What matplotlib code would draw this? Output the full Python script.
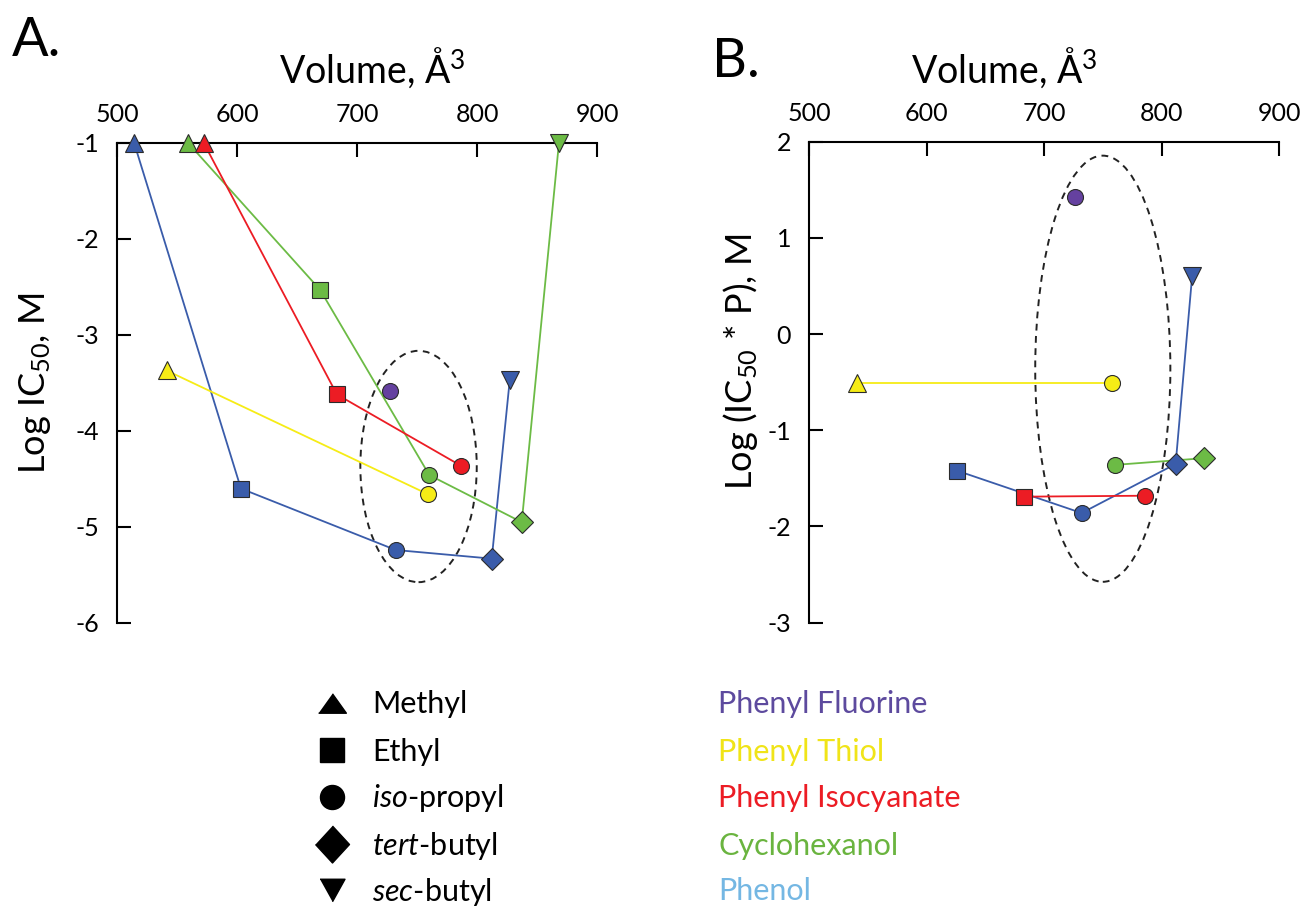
import matplotlib
matplotlib.use('Agg')
import matplotlib.pyplot as plt
from matplotlib.patches import Ellipse
from matplotlib.lines import Line2D

plt.rcParams['font.family'] = ['Lato', 'DejaVu Sans']
plt.rcParams['mathtext.fontset'] = 'custom'
plt.rcParams['mathtext.rm'] = 'Lato'
plt.rcParams['mathtext.it'] = 'Lato:italic'
plt.rcParams['axes.unicode_minus'] = False

# substituent -> marker shape
shape = {'methyl': '^', 'ethyl': 's', 'iso': 'o', 'tert': 'D', 'sec': 'v'}
msize = {'^': 12.5, 's': 11.5, 'o': 11.5, 'D': 11.2, 'v': 12.5}

# panel A: volume (A^3) and log IC50
phenol_a_vol = [514, 603, 732, 812, 827]
phenol_a_log = [-1.0, -4.60, -5.24, -5.33, -3.47]
phenol_a_grp = ['methyl', 'ethyl', 'iso', 'tert', 'sec']
cyclo_a_vol = [559, 669, 760, 837, 868]
cyclo_a_log = [-1.0, -2.53, -4.46, -4.95, -1.0]
cyclo_a_grp = ['methyl', 'ethyl', 'iso', 'tert', 'sec']
isocy_a_vol = [572, 683, 786]
isocy_a_log = [-1.0, -3.62, -4.36]
isocy_a_grp = ['methyl', 'ethyl', 'iso']
thiol_a_vol = [541, 759]
thiol_a_log = [-3.37, -4.66]
thiol_a_grp = ['methyl', 'iso']
fluor_a_vol = [727]
fluor_a_log = [-3.58]
fluor_a_grp = ['iso']

# panel B: volume and log(IC50 * P)
phenol_b_vol = [626, 732, 812, 826]
phenol_b_log = [-1.42, -1.86, -1.35, 0.60]
phenol_b_grp = ['ethyl', 'iso', 'tert', 'sec']
cyclo_b_vol = [760, 836]
cyclo_b_log = [-1.36, -1.29]
cyclo_b_grp = ['iso', 'tert']
isocy_b_vol = [683, 786]
isocy_b_log = [-1.69, -1.68]
isocy_b_grp = ['ethyl', 'iso']
thiol_b_vol = [541, 758]
thiol_b_log = [-0.505, -0.505]
thiol_b_grp = ['methyl', 'iso']
fluor_b_vol = [726]
fluor_b_log = [1.42]
fluor_b_grp = ['iso']

col_phenol = '#3a5caa'
col_cyclo = '#6cbb45'
col_isocy = '#ec1c24'
col_thiol = '#f6ec16'
col_fluor = '#6541a0'

series_a = [(phenol_a_vol, phenol_a_log, phenol_a_grp, col_phenol),
            (cyclo_a_vol, cyclo_a_log, cyclo_a_grp, col_cyclo),
            (isocy_a_vol, isocy_a_log, isocy_a_grp, col_isocy),
            (thiol_a_vol, thiol_a_log, thiol_a_grp, col_thiol),
            (fluor_a_vol, fluor_a_log, fluor_a_grp, col_fluor)]
series_b = [(phenol_b_vol, phenol_b_log, phenol_b_grp, col_phenol),
            (cyclo_b_vol, cyclo_b_log, cyclo_b_grp, col_cyclo),
            (isocy_b_vol, isocy_b_log, isocy_b_grp, col_isocy),
            (thiol_b_vol, thiol_b_log, thiol_b_grp, col_thiol),
            (fluor_b_vol, fluor_b_log, fluor_b_grp, col_fluor)]

legend_groups = ['Methyl', 'Ethyl', r'$\mathit{iso}$-propyl', r'$\mathit{tert}$-butyl', r'$\mathit{sec}$-butyl']
legend_names = ['Phenyl Fluorine', 'Phenyl Thiol', 'Phenyl Isocyanate', 'Cyclohexanol', 'Phenol']
legend_colors = ['#5d4a9e', '#f0e418', '#ec1c24', '#6ab43f', '#74b7e3']

# legend glyphs (a bit squashed compared with the plot markers)
leg_tri = [(-1, -0.7), (1, -0.7), (0, 0.7)]
leg_dia = [(0, 1), (0.92, 0), (0, -1), (-0.92, 0)]
leg_vtri = [(-1, 0.9), (1, 0.9), (0, -0.9)]
legend_shapes = [leg_tri, 's', 'o', leg_dia, leg_vtri]
legend_ms = [20, 17.3, 17.3, 26.6, 18]

fig = plt.figure(figsize=(13.14, 9.06), dpi=100)
ax_a = fig.add_axes([0.0893, 0.3124, 0.3653, 0.5298])
ax_b = fig.add_axes([0.6157, 0.3127, 0.3577, 0.5309])


def draw(ax, series):
    for vol, logv, grp, c in series:
        ax.plot(vol, logv, color=c, lw=1.3, zorder=3, clip_on=False)
        for x, y, g in zip(vol, logv, grp):
            m = shape[g]
            ax.plot([x], [y], marker=m, ms=msize[m], mfc=c, mec='#2b2b2b',
                    mew=0.8, ls='none', zorder=5, clip_on=False)
    for s in ['right', 'bottom']:
        ax.spines[s].set_visible(False)
    for s in ['top', 'left']:
        ax.spines[s].set_linewidth(1.5)
    ax.xaxis.tick_top()
    ax.tick_params(axis='x', direction='in', length=10, width=1.5, pad=12, labelsize=18)
    ax.tick_params(axis='y', direction='in', length=10, width=1.5, pad=13, labelsize=18)
    ax.set_xlim(500, 900)
    ax.set_xticks([500, 600, 700, 800, 900])


draw(ax_a, series_a)
ax_a.set_ylim(-6, -1)
ax_a.set_yticks([-6, -5, -4, -3, -2, -1])
ax_a.add_patch(Ellipse((751, -4.37), 97, 2.41, fill=False, ls=(0, (3.5, 2.8)),
                       lw=1.4, ec='#222222', zorder=2))

draw(ax_b, series_b)
ax_b.set_ylim(-3, 2)
ax_b.set_yticks([-3, -2, -1, 0, 1, 2])
ax_b.add_patch(Ellipse((750, -0.36), 115, 4.43, fill=False, ls=(0, (3.5, 2.8)),
                       lw=1.4, ec='#222222', zorder=2))

# panel letters and axis titles
fig.text(12 / 1314, 1 - 56 / 906, 'A.', fontsize=39, va='baseline', ha='left')
fig.text(712 / 1314, 1 - 77 / 906, 'B.', fontsize=39, va='baseline', ha='left')
fig.text(372 / 1314, 1 - 83 / 906, r'Volume, Å$^3$', fontsize=27, va='baseline', ha='center')
fig.text(1004 / 1314, 1 - 83 / 906, r'Volume, Å$^3$', fontsize=27, va='baseline', ha='center')
fig.text(35 / 1314, 1 - 383 / 906, r'Log IC$_{50}$, M', fontsize=26, rotation=90,
         va='center', ha='center')
fig.text(740 / 1314, 1 - 362 / 906, r'Log (IC$_{50}$ * P), M', fontsize=26, rotation=90,
         va='center', ha='center')

# legend block
row_y = [703, 750, 797, 844, 890]
for i in range(5):
    yf = 1 - row_y[i] / 906
    yb = 1 - (row_y[i] + 10.5) / 906
    fig.add_artist(Line2D([332 / 1314], [yf], marker=legend_shapes[i], ms=legend_ms[i],
                          color='black', ls='none', transform=fig.transFigure))
    fig.text(372 / 1314, yb, legend_groups[i], fontsize=22, va='baseline', ha='left')
    fig.text(718 / 1314, yb, legend_names[i], fontsize=22, va='baseline', ha='left',
             color=legend_colors[i])

fig.savefig('out.png', dpi=100)
